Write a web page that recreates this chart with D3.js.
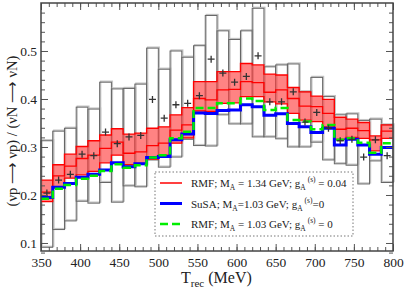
<!DOCTYPE html>
<html>
<head>
<meta charset="utf-8">
<script src="https://cdn.jsdelivr.net/npm/d3@7"></script>
<style>
  body { margin: 0; background: #fff; }
  svg { display: block; }
</style>
</head>
<body>
<svg id="chart"></svg>
<script>
// bins of T_rec (MeV), lower edges, 15 MeV wide
const binLow = [350, 365, 380, 395, 410, 425, 440, 455, 470, 485,
                500, 515, 530, 545, 560, 575, 590, 605, 620, 635,
                650, 665, 680, 695, 710, 725, 740, 755, 770, 785];
const binWidth = 15;

// MiniBooNE ratio (crosses) and error boxes
const ratio   = [0.204, 0.231, 0.243, 0.285, 0.282, 0.331, 0.307, 0.321, 0.324, 0.399,
                 0.360, 0.388, 0.391, 0.407, 0.483, 0.454, 0.435, 0.447, 0.490, 0.394,
                 0.394, 0.415, 0.352, 0.372, 0.339, 0.313, 0.316, 0.279, 0.315, 0.282];
const boxHigh = [0.313, 0.333, 0.339, 0.383, 0.379, 0.435, 0.421, 0.422, 0.431, 0.506,
                 0.462, 0.500, 0.487, 0.511, 0.574, 0.542, 0.524, 0.542, 0.589, 0.467,
                 0.471, 0.473, 0.415, 0.445, 0.405, 0.367, 0.369, 0.355, 0.358, 0.346];
const boxLow  = [0.091, 0.128, 0.146, 0.187, 0.183, 0.226, 0.185, 0.219, 0.217, 0.273,
                 0.258, 0.279, 0.316, 0.303, 0.302, 0.367, 0.348, 0.348, 0.321, 0.321,
                 0.317, 0.300, 0.300, 0.310, 0.273, 0.265, 0.262, 0.223, 0.271, 0.226];

// RMF M_A = 1.34 GeV band (upper, central, lower)
const rmfHigh = [0.231, 0.263, 0.285, 0.301, 0.313, 0.325, 0.338, 0.327, 0.329, 0.339,
                 0.342, 0.367, 0.382, 0.436, 0.436, 0.457, 0.457, 0.474, 0.471, 0.452,
                 0.450, 0.424, 0.415, 0.406, 0.399, 0.362, 0.358, 0.351, 0.323, 0.346];
const rmfMid  = [0.206, 0.240, 0.260, 0.276, 0.283, 0.297, 0.310, 0.287, 0.290, 0.303,
                 0.308, 0.335, 0.346, 0.401, 0.398, 0.419, 0.420, 0.436, 0.434, 0.414,
                 0.419, 0.401, 0.385, 0.384, 0.370, 0.337, 0.339, 0.334, 0.315, 0.333];
const rmfLow  = [0.186, 0.216, 0.235, 0.242, 0.249, 0.267, 0.283, 0.263, 0.266, 0.275,
                 0.283, 0.308, 0.319, 0.375, 0.374, 0.391, 0.392, 0.405, 0.405, 0.394,
                 0.390, 0.370, 0.356, 0.353, 0.342, 0.316, 0.320, 0.318, 0.292, 0.318];

// SuSA M_A = 1.03 GeV
const susa    = [0.195, 0.216, 0.224, 0.237, 0.243, 0.252, 0.267, 0.259, 0.265, 0.278,
                 0.280, 0.315, 0.327, 0.371, 0.370, 0.376, 0.377, 0.388, 0.384, 0.366,
                 0.369, 0.349, 0.342, 0.330, 0.339, 0.304, 0.316, 0.304, 0.285, 0.299];
// RMF M_A = 1.03 GeV
const rmf103  = [0.192, 0.213, 0.221, 0.234, 0.240, 0.250, 0.264, 0.257, 0.262, 0.278,
                 0.283, 0.318, 0.332, 0.381, 0.381, 0.391, 0.391, 0.401, 0.396, 0.377,
                 0.381, 0.356, 0.353, 0.337, 0.346, 0.315, 0.318, 0.309, 0.288, 0.308];

const xTicks = [350, 400, 450, 500, 550, 600, 650, 700, 750, 800];
const yTicks = [0.1, 0.2, 0.3, 0.4, 0.5];

const legendRows = [
  { color: '#ff0000', width: 1.5, dash: null,
    parts: [['RMF; M', 0], ['A', 1], [' = 1.34 GeV; g', 0], ['A', 1], ['(s)', 2], [' = 0.04', 0]] },
  { color: '#0000ff', width: 3, dash: null,
    parts: [['SuSA; M', 0], ['A', 1], ['=1.03 GeV; g', 0], ['A', 1], ['(s)', 2], ['=0', 0]] },
  { color: '#00ee00', width: 2.5, dash: '8,4',
    parts: [['RMF; M', 0], ['A', 1], [' = 1.03 GeV; g', 0], ['A', 1], ['(s)', 2], [' = 0', 0]] }
];

const font = '"Liberation Serif", "Liberation Sans", Arial, sans-serif';

const width = 407, height = 290;
const margin = { top: 3, right: 14, bottom: 39, left: 41 };
const innerW = width - margin.left - margin.right;
const innerH = height - margin.top - margin.bottom;

const svg = d3.select('#chart').attr('width', width).attr('height', height);
const g = svg.append('g').attr('transform', `translate(${margin.left},${margin.top})`);

const x = d3.scaleLinear().domain([350, 800]).range([0, innerW]);
const y = d3.scaleLinear().domain([0.0833, 0.6]).range([innerH, 0]);

// error boxes
const boxes = g.append('g');
binLow.forEach((b, i) => {
  const bx = x(b), bw = x(b + binWidth) - x(b);
  const by = y(boxHigh[i]), bh = y(boxLow[i]) - y(boxHigh[i]);
  boxes.append('rect')
    .attr('x', bx + 1).attr('y', by - 1).attr('width', bw).attr('height', bh)
    .attr('fill', 'none').attr('stroke', '#c4c4c4').attr('stroke-width', 1.3);
  boxes.append('rect')
    .attr('x', bx).attr('y', by).attr('width', bw).attr('height', bh)
    .attr('fill', 'none').attr('stroke', '#666').attr('stroke-width', 1);
});

const steps = vals => binLow.map((b, i) => [b, vals[i]])
  .concat([[binLow[binLow.length - 1] + binWidth, vals[vals.length - 1]]]);

// red band
const bandData = binLow.map((b, i) => [b, rmfHigh[i], rmfLow[i]])
  .concat([[binLow[binLow.length - 1] + binWidth, rmfHigh[29], rmfLow[29]]]);
g.append('path')
  .datum(bandData)
  .attr('fill', '#ff4040').attr('fill-opacity', 0.65)
  .attr('d', d3.area().curve(d3.curveStepAfter)
    .x(d => x(d[0])).y0(d => y(d[2])).y1(d => y(d[1])));

const stepLine = d3.line().curve(d3.curveStepAfter).x(d => x(d[0])).y(d => y(d[1]));

[rmfHigh, rmfLow, rmfMid].forEach(v => {
  g.append('path').datum(steps(v))
    .attr('fill', 'none').attr('stroke', '#ff0000').attr('stroke-width', 1.3)
    .attr('d', stepLine);
});

g.append('path').datum(steps(susa))
  .attr('fill', 'none').attr('stroke', '#0000ff').attr('stroke-width', 3)
  .attr('d', stepLine);

g.append('path').datum(steps(rmf103))
  .attr('fill', 'none').attr('stroke', '#00ee00').attr('stroke-width', 2.5)
  .attr('stroke-dasharray', '8,4')
  .attr('d', stepLine);

// crosses
g.append('g').selectAll('path')
  .data(binLow)
  .join('path')
  .attr('transform', (b, i) => `translate(${x(b + binWidth / 2)},${y(ratio[i])})`)
  .attr('d', 'M-3.5,0H3.5M0,-3.5V3.5')
  .attr('stroke', '#333').attr('stroke-width', 1.3);

// axes, ticks pointing inward on all sides
const xMinor = x.ticks(45), yMinor = d3.range(0.1, 0.6, 0.02).concat([0.08]);

const axisStyle = sel => {
  sel.attr('font-family', null);
  sel.select('.domain').remove();
  sel.selectAll('line').attr('stroke', '#555').attr('stroke-width', 1);
  sel.selectAll('text').attr('fill', '#222').style('font-size', '13.5px')
    .style('font-family', font);
};

g.append('g').attr('transform', `translate(0,${innerH})`)
  .call(d3.axisBottom(x).tickValues(xMinor).tickSize(-4).tickFormat(''))
  .call(axisStyle);
g.append('g').attr('transform', `translate(0,${innerH})`)
  .call(d3.axisBottom(x).tickValues(xTicks).tickSize(-7).tickPadding(6).tickFormat(d3.format('d')))
  .call(axisStyle);
g.append('g')
  .call(d3.axisTop(x).tickValues(xMinor).tickSize(-4).tickFormat(''))
  .call(axisStyle);
g.append('g')
  .call(d3.axisTop(x).tickValues(xTicks).tickSize(-7).tickFormat(''))
  .call(axisStyle);

g.append('g')
  .call(d3.axisLeft(y).tickValues(yMinor).tickSize(-4).tickFormat(''))
  .call(axisStyle);
g.append('g')
  .call(d3.axisLeft(y).tickValues(yTicks).tickSize(-7).tickPadding(4).tickFormat(d3.format('.1f')))
  .call(axisStyle);
g.append('g').attr('transform', `translate(${innerW},0)`)
  .call(d3.axisRight(y).tickValues(yMinor).tickSize(-4).tickFormat(''))
  .call(axisStyle);
g.append('g').attr('transform', `translate(${innerW},0)`)
  .call(d3.axisRight(y).tickValues(yTicks).tickSize(-7).tickFormat(''))
  .call(axisStyle);

g.append('rect')
  .attr('width', innerW).attr('height', innerH)
  .attr('fill', 'none').attr('stroke', '#444').attr('stroke-width', 1.5);

// legend
const leg = g.append('g').attr('transform', `translate(${155 - margin.left},${172 - margin.top})`);
leg.append('rect')
  .attr('width', 198).attr('height', 64)
  .attr('fill', '#fff').attr('stroke', '#777').attr('stroke-width', 1)
  .attr('stroke-dasharray', '1.5,2');

const shift = [0, 3, -5];
const partSize = ['11px', '7.5px', '7.5px'];
legendRows.forEach((row, i) => {
  const ry = 11 + i * 20.5;
  leg.append('line')
    .attr('x1', 5).attr('x2', 27).attr('y1', ry).attr('y2', ry)
    .attr('stroke', row.color).attr('stroke-width', row.width)
    .attr('stroke-dasharray', row.dash);
  const t = leg.append('text').attr('x', 36).attr('y', ry + 4)
    .attr('fill', '#222')
    .style('font-family', font);
  let cur = 0;
  row.parts.forEach(([txt, k]) => {
    t.append('tspan')
      .attr('dy', shift[k] - cur)
      .attr('dx', k === 2 ? 2 : 0)
      .style('font-size', partSize[k])
      .text(txt);
    cur = shift[k];
  });
});

// axis titles
const xt = svg.append('text')
  .attr('x', 181).attr('y', 283)
  .attr('fill', '#222')
  .style('font-family', font)
  .style('font-size', '16px');
xt.append('tspan').text('T');
xt.append('tspan').attr('dy', 4).style('font-size', '11px').text('rec');
xt.append('tspan').attr('dy', -4).text(' (MeV)');

svg.append('text')
  .attr('transform', 'translate(17,131) rotate(-90)')
  .attr('text-anchor', 'middle')
  .attr('fill', '#222')
  .style('font-family', font)
  .style('font-size', '14.5px')
  .text('(νp ⟶ νp) / (νN ⟶ νN)');
</script>
</body>
</html>
